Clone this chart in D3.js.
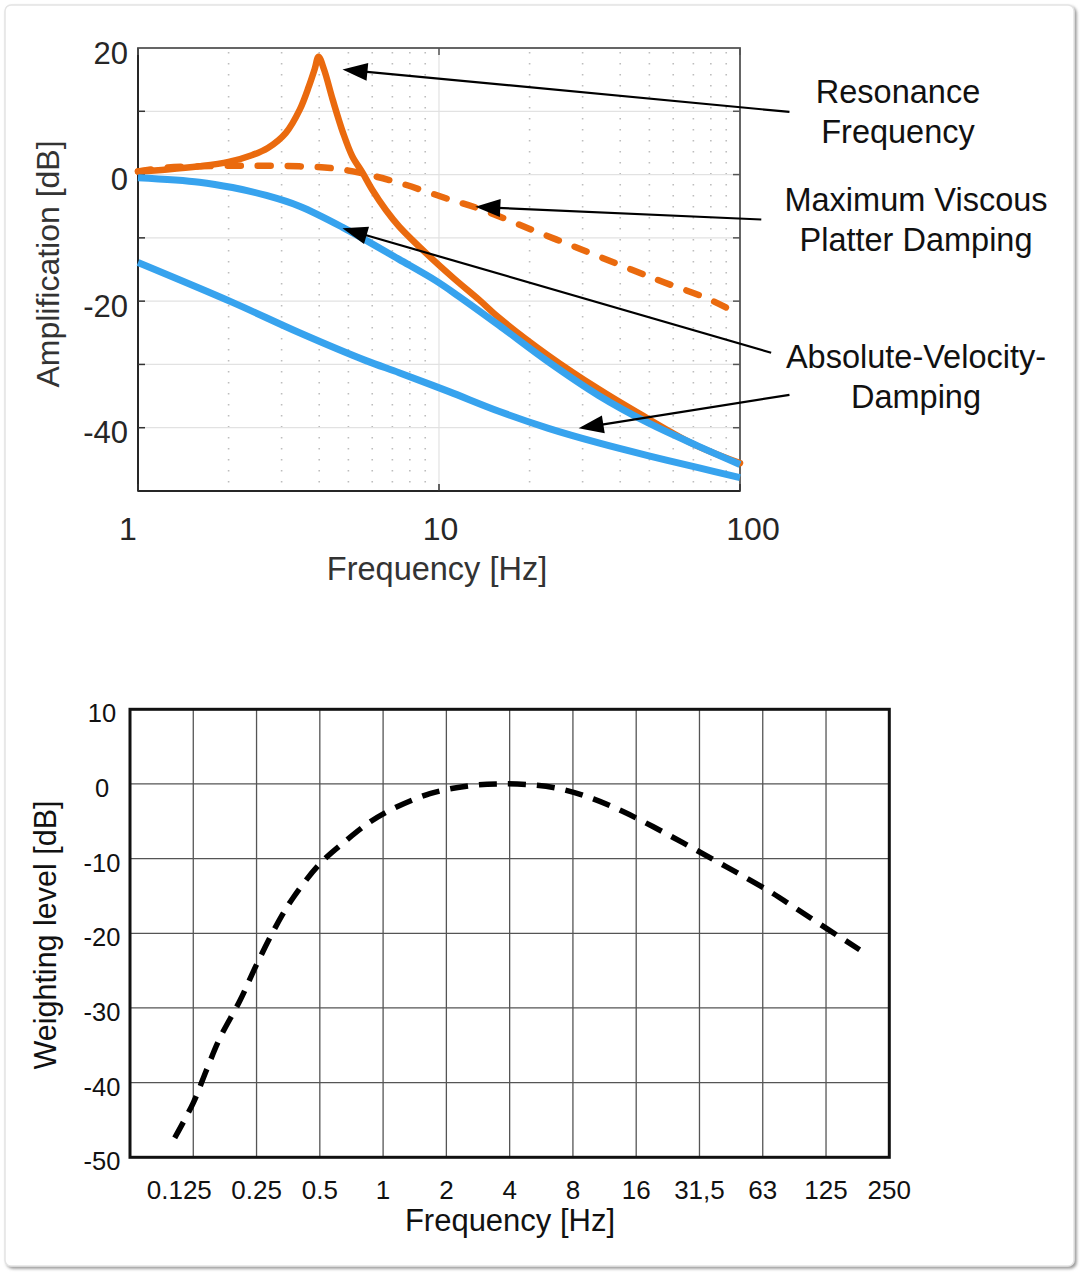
<!DOCTYPE html>
<html><head><meta charset="utf-8">
<script src="https://cdn.jsdelivr.net/npm/d3@7"></script>
<style>
body{margin:0;background:#fff}
svg{display:block}
text{font-family:"Liberation Sans",Arial,Helvetica,sans-serif}
</style>
</head><body>
<svg id="c" width="1086" height="1278"></svg>
<script>
// ---------- Top chart data ----------
const topXTicks = [1, 10, 100];
const topYTickLabels = [20, 0, -20, -40];
const topYGrid = [-40, -30, -20, -10, 0, 10];
const topYTicks = [-40, -30, -20, -10, 0, 10];
const topMinorX = [2,3,4,5,6,7,8,9,20,30,40,50,60,70,80,90];

const resonanceCurve = [
  [1,0.5],[1.25,0.8],[1.6,1.3],[2.0,2.0],[2.4,3.1],[2.7,4.2],[3.1,6.6],[3.45,10.3],
  [3.7,14.0],[3.86,16.6],[3.98,18.6],[4.15,16.6],[4.43,11.9],[4.8,6.6],[5.15,2.9],
  [5.57,0.3],[6.0,-2.4],[6.66,-5.6],[7.37,-8.2],[9.0,-12.3],[11.2,-16.4],[13.6,-19.8],
  [15.8,-22.6],[23.1,-28.6],[33.9,-33.9],[46,-37.7],[70,-42.6],[100,-45.6]
];
const viscousCurve = [
  [1,0.5],[1.25,1.1],[1.6,1.3],[2.35,1.4],[3.44,1.3],[4.42,1.0],[5.43,0.3],[7.37,-1.3],
  [10.8,-3.9],[13.8,-5.5],[20.3,-8.7],[29.6,-11.8],[43.5,-15.0],[56.4,-17.1],[76.3,-19.4],[89.8,-21.0]
];
const absVelUpper = [
  [1,-0.5],[1.6,-1.2],[2.06,-2.05],[2.67,-3.3],[3.44,-5.0],[4.77,-8.3],[7.37,-13.4],
  [9.78,-16.8],[11.6,-19.2],[15.8,-23.8],[23.1,-29.6],[33.9,-34.9],[49.4,-39.2],[72.6,-42.9],[100,-45.8]
];
const absVelLower = [
  [1,-13.9],[2.06,-20.2],[3.44,-25.0],[5.72,-29.4],[7.37,-31.3],[10.8,-34.3],[15.8,-37.4],
  [23.1,-40.1],[33.9,-42.4],[49.4,-44.4],[72.6,-46.3],[100,-47.9]
];
const annotations = [
  {lines:["Resonance","Frequency"], tip:[4.78,16.6], tail:[146,9.9]},
  {lines:["Maximum Viscous","Platter Damping"], tip:[13.2,-5.1], tail:[117.7,-7.1]},
  {lines:["Absolute-Velocity-","Damping"], tip:[4.78,-8.5], tail:[126.9,-28.15]},
  {lines:[], tip:[29.1,-40.1], tail:[146,-34.8]}
];

// ---------- Bottom chart data ----------
const bottomXTicks = [0.125,0.25,0.5,1,2,4,8,16,32,64,128,256];
const bottomXLabels = ["0.125","0.25","0.5","1","2","4","8","16","31,5","63","125","250"];
const bottomYTicks = [10,0,-10,-20,-30,-40,-50];
const weightingCurve = [
  [0.102,-47.4],[0.125,-42.7],[0.145,-38.2],[0.1675,-34.0],[0.2085,-29.0],[0.25,-24.2],
  [0.31,-19.0],[0.374,-15.2],[0.5,-10.7],[0.646,-7.9],[0.865,-5.1],[1.117,-3.3],[1.67,-1.3],
  [2.49,-0.3],[3.47,0.0],[5.0,-0.1],[7.06,-0.7],[10.0,-2.0],[13.85,-3.7],[19.2,-5.7],
  [26.8,-7.9],[37.1,-10.1],[49.8,-12.1],[69.1,-14.4],[92.5,-16.7],[128,-19.3],[185,-22.2]
];

// ---------- Drawing ----------
const svg = d3.select("#c");
const defs = svg.append("defs");
const f = defs.append("filter").attr("id","sh").attr("x","-5%").attr("y","-5%").attr("width","110%").attr("height","110%");
f.append("feDropShadow").attr("dx",2).attr("dy",2).attr("stdDeviation",1.6).attr("flood-color","#777").attr("flood-opacity",0.75);

svg.append("rect").attr("x",5).attr("y",5).attr("width",1069).attr("height",1261).attr("rx",6)
  .attr("fill","#fff").attr("stroke","#e4e4e4").attr("stroke-width",1.5).attr("filter","url(#sh)");

// ===== TOP =====
const L=138,R=740,T=48,B=491;
const x1 = d3.scaleLog().domain([1,100]).range([L,R]);
const y1 = d3.scaleLinear().domain([-50,20]).range([B,T]);
const x1Label = x1.copy().range([128,753]);
const g1 = svg.append("g");

g1.selectAll(".mx").data(topMinorX).join("line")
  .attr("x1",d=>x1(d)).attr("x2",d=>x1(d)).attr("y1",T+4).attr("y2",B)
  .attr("stroke","#bdbdbd").attr("stroke-width",1.6).attr("stroke-dasharray","1.6,9.4");
g1.selectAll(".gy").data(topYGrid).join("line")
  .attr("x1",L).attr("x2",R).attr("y1",d=>y1(d)).attr("y2",d=>y1(d))
  .attr("stroke","#e2e2e2").attr("stroke-width",1.2);
g1.append("line").attr("x1",x1(10)).attr("x2",x1(10)).attr("y1",T).attr("y2",B)
  .attr("stroke","#e2e2e2").attr("stroke-width",1.2);

g1.append("rect").attr("x",L).attr("y",T).attr("width",R-L).attr("height",B-T)
  .attr("fill","none").attr("stroke","#555").attr("stroke-width",1.8);
g1.append("line").attr("x1",L).attr("x2",L).attr("y1",T).attr("y2",B).attr("stroke","#262626").attr("stroke-width",2);
g1.append("line").attr("x1",L).attr("x2",R).attr("y1",B).attr("y2",B).attr("stroke","#262626").attr("stroke-width",2);

g1.selectAll(".tl").data(topYTicks).join("line")
  .attr("x1",L).attr("x2",L+7).attr("y1",d=>y1(d)).attr("y2",d=>y1(d)).attr("stroke","#333").attr("stroke-width",1.5);
g1.selectAll(".tr").data(topYTicks).join("line")
  .attr("x1",R).attr("x2",R-7).attr("y1",d=>y1(d)).attr("y2",d=>y1(d)).attr("stroke","#555").attr("stroke-width",1.5);
g1.selectAll(".tb").data(topXTicks).join("line")
  .attr("x1",d=>x1(d)).attr("x2",d=>x1(d)).attr("y1",B).attr("y2",B-7).attr("stroke","#333").attr("stroke-width",1.5);
g1.selectAll(".tt").data(topXTicks).join("line")
  .attr("x1",d=>x1(d)).attr("x2",d=>x1(d)).attr("y1",T).attr("y2",T+7).attr("stroke","#555").attr("stroke-width",1.5);

g1.selectAll(".yl").data(topYTickLabels).join("text")
  .attr("x",128).attr("y",d=>y1(d)+4.5).attr("dy","0.36em").attr("text-anchor","end")
  .attr("font-size",31).attr("fill","#262626").text(d=>d);
g1.selectAll(".xl").data(topXTicks).join("text")
  .attr("x",d=>x1Label(d)).attr("y",540).attr("text-anchor","middle")
  .attr("font-size",32).attr("fill","#262626").text(d=>d);
g1.append("text").attr("x",437).attr("y",580).attr("text-anchor","middle")
  .attr("font-size",32.5).attr("fill","#333").text("Frequency [Hz]");
g1.append("text").attr("transform","translate(59,264) rotate(-90)").attr("text-anchor","middle")
  .attr("font-size",32).attr("fill","#333").text("Amplification [dB]");

const line1 = d3.line().x(d=>x1(d[0])).y(d=>y1(d[1])).curve(d3.curveCatmullRom.alpha(0.5));
const orange = "#EA6A0E", blue = "#37A3EE";
g1.append("path").datum(resonanceCurve).attr("d",line1).attr("fill","none")
  .attr("stroke",orange).attr("stroke-width",6.5).attr("stroke-linecap","round").attr("stroke-linejoin","round");
g1.append("path").datum(viscousCurve).attr("d",line1).attr("fill","none")
  .attr("stroke",orange).attr("stroke-width",6.5).attr("stroke-linecap","round").attr("stroke-dasharray","13,17");
g1.append("path").datum(absVelUpper).attr("d",line1).attr("fill","none")
  .attr("stroke",blue).attr("stroke-width",7).attr("stroke-linecap","butt");
g1.append("path").datum(absVelLower).attr("d",line1).attr("fill","none")
  .attr("stroke",blue).attr("stroke-width",7).attr("stroke-linecap","butt");

const ga = svg.append("g");
annotations.forEach(a=>{
  const px=x1(a.tip[0]), py=y1(a.tip[1]), qx=x1(a.tail[0]), qy=y1(a.tail[1]);
  const dx=px-qx, dy=py-qy, len=Math.hypot(dx,dy), ux=dx/len, uy=dy/len;
  const Lh=25, W=9, bx=px-ux*Lh, by=py-uy*Lh, nx=-uy, ny=ux;
  ga.append("line").attr("x1",qx).attr("y1",qy).attr("x2",bx+ux*3).attr("y2",by+uy*3)
    .attr("stroke","#000").attr("stroke-width",2.2);
  ga.append("path").attr("d",`M${px},${py}L${bx+nx*W},${by+ny*W}L${bx-nx*W},${by-ny*W}Z`).attr("fill","#000");
});
const annText = [
  {x:898, y:[103,143], i:0},
  {x:916, y:[211,251], i:1},
  {x:916, y:[368,408], i:2}
];
annText.forEach(t=>{
  annotations[t.i].lines.forEach((s,k)=>{
    ga.append("text").attr("x",t.x).attr("y",t.y[k]).attr("text-anchor","middle")
      .attr("font-size",32.5).attr("fill","#111").text(s);
  });
});

// ===== BOTTOM =====
const L2=130,R2=889.3,T2=709.3,B2=1157.3;
const x2 = d3.scaleLog().base(2).domain([0.0625,256]).range([L2,R2]);
const y2 = d3.scaleLinear().domain([-50,10]).range([B2,T2]);
const g2 = svg.append("g");

g2.selectAll(".vg").data(bottomXTicks.slice(0,-1)).join("line")
  .attr("x1",d=>x2(d)).attr("x2",d=>x2(d)).attr("y1",T2).attr("y2",B2)
  .attr("stroke","#555").attr("stroke-width",1.3);
g2.selectAll(".hg").data(bottomYTicks.slice(1,-1)).join("line")
  .attr("x1",L2).attr("x2",R2).attr("y1",d=>y2(d)).attr("y2",d=>y2(d))
  .attr("stroke","#555").attr("stroke-width",1.3);
g2.append("rect").attr("x",L2).attr("y",T2).attr("width",R2-L2).attr("height",B2-T2)
  .attr("fill","none").attr("stroke","#111").attr("stroke-width",3);

g2.selectAll(".bxl").data(bottomXTicks).join("text")
  .attr("x",(d,i)=>x2(d)+(i===0?-14:0)).attr("y",1199).attr("text-anchor","middle")
  .attr("font-size",26).attr("fill","#111").text((d,i)=>bottomXLabels[i]);
g2.selectAll(".byl").data(bottomYTicks).join("text")
  .attr("x",102).attr("y",d=>y2(d)+4).attr("dy","0.36em").attr("text-anchor","middle")
  .attr("font-size",25.5).attr("fill","#111").text(d=>d);
g2.append("text").attr("x",510).attr("y",1231).attr("text-anchor","middle")
  .attr("font-size",31).attr("fill","#111").text("Frequency [Hz]");
g2.append("text").attr("transform","translate(56,935) rotate(-90)").attr("text-anchor","middle")
  .attr("font-size",30.5).attr("fill","#111").text("Weighting level [dB]");

const line2 = d3.line().x(d=>x2(d[0])).y(d=>y2(d[1])).curve(d3.curveCatmullRom.alpha(0.5));
g2.append("path").datum(weightingCurve).attr("d",line2).attr("fill","none")
  .attr("stroke","#000").attr("stroke-width",5.5).attr("stroke-dasharray","18,11");
</script>
</body></html>
